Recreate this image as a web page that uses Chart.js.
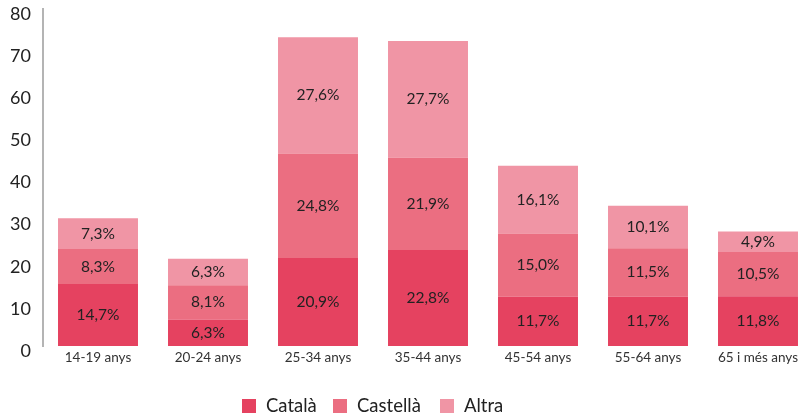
<!DOCTYPE html>
<html>
<head>
<meta charset="utf-8">
<script src="https://cdn.jsdelivr.net/npm/chart.js@4"></script>
<style>
  html, body { margin: 0; padding: 0; overflow: hidden; background: #fff; }
  #wrap { position: relative; width: 813px; height: 418px; }
  #legend { position: absolute; top: 0; left: 0; font-family: Lato, sans-serif; font-size: 18.5px; color: #222; white-space: nowrap; }
  #legend span.item { position: absolute; top: 393px; line-height: 24px; }
  #legend span.box { display: inline-block; width: 14px; height: 14px; margin-right: 10px; vertical-align: -1px; }
</style>
</head>
<body>
<div id="wrap">
  <canvas id="myChart" width="813" height="418"></canvas>
  <div id="legend"></div>
</div>
<script>
const ageGroups = ['14-19 anys', '20-24 anys', '25-34 anys', '35-44 anys', '45-54 anys', '55-64 anys', '65 i més anys'];
const catala = [14.7, 6.3, 20.9, 22.8, 11.7, 11.7, 11.8];
const castella = [8.3, 8.1, 24.8, 21.9, 15.0, 11.5, 10.5];
const altra = [7.3, 6.3, 27.6, 27.7, 16.1, 10.1, 4.9];
const seriesNames = ['Català', 'Castellà', 'Altra'];
const seriesColors = ['#e54260', '#eb6e81', '#f095a5'];
const legendLeft = [242, 333, 440];

// labels inside each segment, e.g. "14,7%"
const segmentLabels = {
    id: 'segmentLabels',
    afterDatasetsDraw(chart) {
        const ctx = chart.ctx;
        ctx.save();
        ctx.font = '15.5px Lato, sans-serif';
        ctx.fillStyle = '#222';
        ctx.textAlign = 'center';
        ctx.textBaseline = 'middle';
        chart.data.datasets.forEach((ds, i) => {
            chart.getDatasetMeta(i).data.forEach((bar, j) => {
                const y = (bar.y + bar.base) / 2;
                ctx.fillText(ds.data[j].toFixed(1).replace('.', ',') + '%', bar.x, y);
            });
        });
        ctx.restore();
    }
};

const ctx = document.getElementById('myChart').getContext('2d');

const myChart = new Chart(ctx, {
    type: 'bar',
    data: {
        labels: ageGroups,
        datasets: [
            { label: seriesNames[0], data: catala, backgroundColor: seriesColors[0] },
            { label: seriesNames[1], data: castella, backgroundColor: seriesColors[1] },
            { label: seriesNames[2], data: altra, backgroundColor: seriesColors[2] }
        ]
    },
    options: {
        responsive: false,
        animation: false,
        layout: { padding: { top: 9, left: 0, right: 0, bottom: 0 } },
        datasets: {
            bar: { barPercentage: 1, categoryPercentage: 0.727 }
        },
        plugins: {
            legend: { display: false },
            tooltip: { enabled: false }
        },
        scales: {
            x: {
                stacked: true,
                grid: { display: false, drawTicks: false },
                border: { display: false },
                ticks: { color: '#333', font: { family: 'Lato', size: 13.5 }, padding: 4, maxRotation: 0 },
                afterFit: (scale) => { scale.height = 72; scale.paddingLeft = 0; scale.paddingRight = 0; }
            },
            y: {
                stacked: true,
                min: 0,
                max: 80,
                grid: { display: false, drawTicks: false },
                border: { display: true, color: '#b4b4b4', width: 2 },
                ticks: { stepSize: 10, color: '#222', font: { family: 'Lato', size: 18 }, padding: 12, labelOffset: 5 },
                afterFit: (scale) => { scale.width = 43; scale.paddingTop = 0; scale.paddingBottom = 0; }
            }
        }
    },
    plugins: [segmentLabels]
});

const legend = document.getElementById('legend');
seriesNames.forEach((name, i) => {
    legend.innerHTML += '<span class="item" style="left:' + legendLeft[i] + 'px"><span class="box" style="background:' + seriesColors[i] + '"></span>' + name + '</span>';
});
</script>
</body>
</html>
